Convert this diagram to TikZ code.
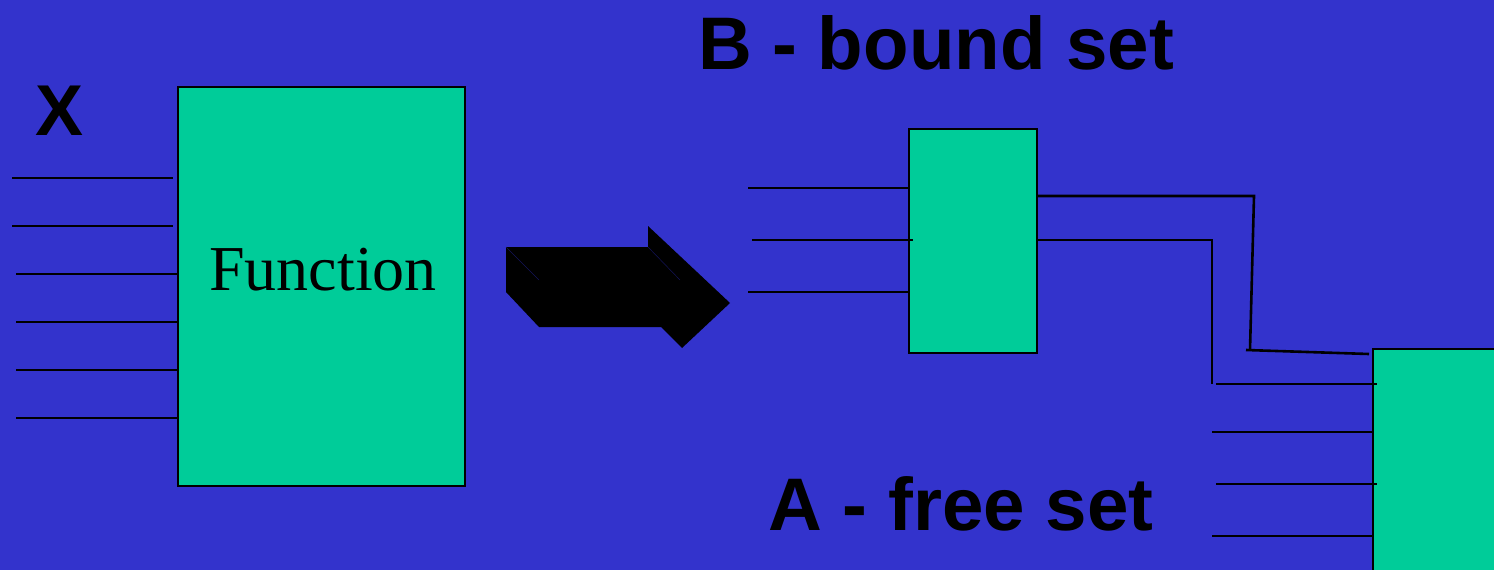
\documentclass[tikz,border=0pt]{standalone}
\usepackage{fontspec}
\setmainfont{Liberation Serif}
\setsansfont{Liberation Sans}
\definecolor{slidebg}{RGB}{51,51,204}
\definecolor{blockgreen}{RGB}{0,204,153}
\definecolor{edgenavy}{RGB}{20,20,90}
\tikzset{
  block/.style={draw=black, line width=1.6pt, fill=blockgreen, inner sep=0pt, anchor=north west},
  wire/.style={draw=black, line width=1.8pt},
  heavywire/.style={draw=black, line width=2.6pt},
  biglabel/.style={font=\sffamily\bfseries\fontsize{74.5}{82}\selectfont, text=black, inner sep=0pt},
}
\begin{document}
\begin{tikzpicture}[x=1pt,y=-1pt]
  % slide background
  \fill[slidebg] (0,0) rectangle (1494,570);
  \useasboundingbox (0,0) rectangle (1494,570);

  % original function block
  \node[block, minimum width=287pt, minimum height=399pt] (F) at (177,86) {};
  \node[font=\fontsize{64}{70}\selectfont, inner sep=0pt] (ftext) at (323,270) {Function};
  \node[biglabel, font=\sffamily\bfseries\fontsize{72}{80}\selectfont] (X) at (60,111) {X};

  % its inputs
  \foreach \y/\xa/\xb [count=\i] in {178/12/173, 226/12/173, 274/16/177, 322/16/177, 370/16/177, 418/16/177} {
    \coordinate (x\i) at (\xa,\y);
    \draw[wire] (x\i) -- (\xb,\y);
  }

  % block arrow with a shallow 3D edge
  \fill[black] (506,247) -- (648,247) -- (648,226) -- (730,303) -- (682,348)
    -- (661,327) -- (539,327) -- (506,292) -- cycle;
  \draw[edgenavy, line width=0.5pt] (506,247) -- (539,280);
  \draw[edgenavy, line width=0.5pt] (648,247) -- (680,280);

  % decomposition: bound-set block
  \node[biglabel] (B) at (936,43) {B - bound set};
  \node[block, minimum width=128pt, minimum height=224pt] (G) at (908,128) {};
  \foreach \y/\xa/\xb [count=\i] in {188/748/908, 240/752/913, 292/748/908} {
    \coordinate (b\i) at (\xa,\y);
    \draw[wire] (b\i) -- (\xb,\y);
  }

  % free-set block at the right edge
  \node[block, minimum width=140pt, minimum height=240pt] (H) at (1372,348) {};
  \node[biglabel] (A) at (961,504) {A - free set};
  \foreach \y/\xa/\xb [count=\i] in {432/1212/1372, 484/1216/1377, 536/1212/1372} {
    \coordinate (a\i) at (\xa,\y);
    \draw[wire] (a\i) -- (\xb,\y);
  }

  % outputs of the bound-set block routed into the free-set block
  \coordinate (g1) at (1254,196);
  \coordinate (g1b) at (1250,350);
  \coordinate (g1c) at (1246,350);
  \draw[heavywire] (G.north east |- 0,196) -- (g1) -- (g1b);
  \draw[heavywire] (g1c) -- (1369,354);

  \coordinate (g2) at (1212,240);
  \coordinate (g2b) at (1212,384);
  \draw[wire] (G.north east |- 0,240) -- (g2) -- (g2b);
  \draw[wire] (1216,384) -- (1377,384);
\end{tikzpicture}
\end{document}
